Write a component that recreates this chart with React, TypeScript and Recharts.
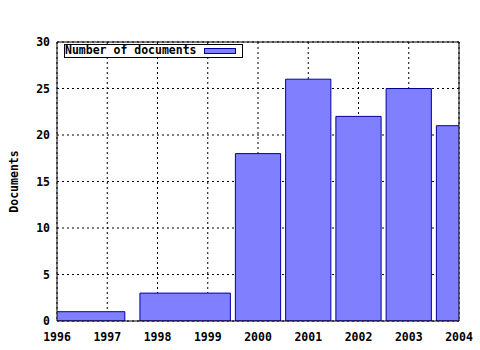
import {
  ComposedChart,
  XAxis,
  YAxis,
  CartesianGrid,
  ReferenceArea,
  Legend,
} from 'recharts';

const YEARS = [1996, 1999, 2000, 2001, 2002, 2003, 2004];
const DOCUMENTS = [1, 3, 18, 26, 22, 25, 21];

const X_TICKS = [1996, 1997, 1998, 1999, 2000, 2001, 2002, 2003, 2004];
const Y_TICKS = [0, 5, 10, 15, 20, 25, 30];

const SERIES_NAME = 'Number of documents';
const FILL = '#8080ff';
const EDGE = '#0000a0';
const FONT = '"DejaVu Sans Mono", monospace';

// minor ticks at quarters between the yearly ticks
const MINOR_TICKS = X_TICKS.slice(0, -1).flatMap((y) => [y + 0.25, y + 0.5, y + 0.75]);

// gnuplot style auto box width: half the gap to the neighbours, times 0.9
const boxes = YEARS.map((year, i) => {
  const left = i > 0 ? (year - YEARS[i - 1]) / 2 : (YEARS[1] - YEARS[0]) / 2;
  const right = i < YEARS.length - 1 ? (YEARS[i + 1] - year) / 2 : left;
  return { year, x1: year - left * 0.9, x2: year + right * 0.9, value: DOCUMENTS[i] };
});

const rows = YEARS.map((year, i) => ({ year, value: DOCUMENTS[i] }));

const tickStyle = { fill: '#000', fontSize: 11.5, fontWeight: 700, fontFamily: FONT };

const KeyBox = () => (
  <div
    style={{
      position: 'relative',
      width: 179,
      height: 14,
      boxSizing: 'border-box',
      border: '1px solid #000',
      background: '#fff',
      fontFamily: FONT,
      fontWeight: 700,
      fontSize: 11.5,
      lineHeight: '12px',
      color: '#000',
      whiteSpace: 'nowrap',
    }}
  >
    <span style={{ position: 'absolute', left: 0, top: -1 }}>{SERIES_NAME}</span>
    <span
      style={{
        position: 'absolute',
        left: 139,
        top: 3,
        width: 32,
        height: 6,
        boxSizing: 'border-box',
        background: FILL,
        border: `1px solid ${EDGE}`,
      }}
    />
  </div>
);

// inward tick axes (mirrored, 1px thick so they still render)
const mirrorX = {
  type: 'number' as const,
  domain: [1996, 2004],
  allowDataOverflow: true,
  interval: 0 as const,
  mirror: true,
  height: 1,
  tick: false as const,
  tickLine: { stroke: '#000' },
};

const mirrorY = {
  type: 'number' as const,
  domain: [0, 30],
  allowDataOverflow: true,
  ticks: Y_TICKS,
  interval: 0 as const,
  mirror: true,
  width: 1,
  tick: false as const,
  tickSize: 5,
  tickLine: { stroke: '#000' },
};

export default function App() {
  return (
    <div style={{ position: 'absolute', left: 0, top: 0, width: 480, height: 350, background: '#fff' }}>
      <ComposedChart
        width={480}
        height={350}
        data={rows}
        margin={{ top: 42, right: 21, bottom: 4, left: 17 }}
      >
        <CartesianGrid stroke="#000" strokeDasharray="2 3" strokeWidth={1} />
        {boxes.map((b) => (
          <ReferenceArea
            key={b.year}
            x1={b.x1}
            x2={b.x2}
            y1={0}
            y2={b.value}
            fill={FILL}
            fillOpacity={1}
            stroke={EDGE}
            strokeWidth={1}
            ifOverflow="hidden"
          />
        ))}
        <XAxis
          type="number"
          dataKey="year"
          domain={[1996, 2004]}
          allowDataOverflow
          ticks={X_TICKS}
          interval={0}
          height={25}
          tickLine={false}
          tickSize={0}
          tickMargin={12}
          axisLine={{ stroke: '#000' }}
          tick={tickStyle}
        />
        <XAxis xAxisId="bottomMajor" {...mirrorX} ticks={X_TICKS} tickSize={5} axisLine={false} />
        <XAxis xAxisId="bottomMinor" {...mirrorX} ticks={MINOR_TICKS} tickSize={3} axisLine={false} />
        <XAxis
          xAxisId="topMajor"
          orientation="top"
          {...mirrorX}
          ticks={X_TICKS}
          tickSize={5}
          axisLine={{ stroke: '#000' }}
        />
        <XAxis
          xAxisId="topMinor"
          orientation="top"
          {...mirrorX}
          ticks={MINOR_TICKS}
          tickSize={3}
          axisLine={false}
        />
        <YAxis
          type="number"
          domain={[0, 30]}
          allowDataOverflow
          ticks={Y_TICKS}
          interval={0}
          width={40}
          tickLine={false}
          tickSize={0}
          tickMargin={7}
          axisLine={{ stroke: '#000' }}
          tick={tickStyle}
          label={{
            content: ({ viewBox }: any) => (
              <text
                transform={`translate(${viewBox.x + 0.5}, ${viewBox.y + viewBox.height / 2}) rotate(-90)`}
                textAnchor="middle"
                style={tickStyle}
              >
                Documents
              </text>
            ),
          }}
        />
        <YAxis yAxisId="leftMajor" {...mirrorY} axisLine={false} />
        <YAxis yAxisId="right" orientation="right" {...mirrorY} axisLine={{ stroke: '#000' }} />
        <Legend
          layout="vertical"
          align="center"
          verticalAlign="middle"
          content={() => <KeyBox />}
          wrapperStyle={{ left: 64, top: 44, width: 179, height: 14 }}
        />
      </ComposedChart>
    </div>
  );
}
